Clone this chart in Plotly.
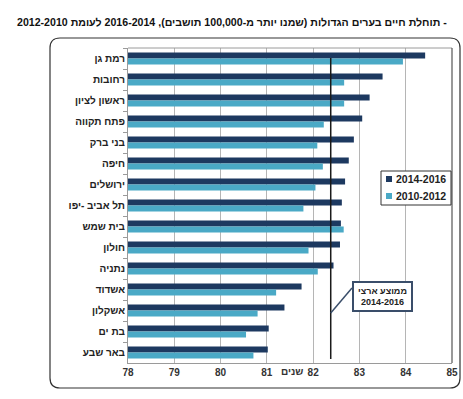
import plotly.graph_objects as go

cities = ["רמת גן", "רחובות", "ראשון לציון", "פתח תקווה", "בני ברק", "חיפה", "ירושלים",
          "תל אביב -יפו", "בית שמש", "חולון", "נתניה", "אשדוד", "אשקלון", "בת ים", "באר שבע"]
le_2014_2016 = [84.42, 83.50, 83.22, 83.06, 82.88, 82.77, 82.69, 82.62, 82.60, 82.58, 82.44,
                81.75, 81.38, 81.04, 81.02]
le_2010_2012 = [83.94, 82.67, 82.67, 82.23, 82.09, 82.21, 82.05, 81.79, 82.66, 81.90, 82.10,
                81.20, 80.80, 80.55, 80.71]
national_avg = 82.38
x_ticks = [78, 79, 80, 81, 82, 83, 84, 85]
series_names = ["2014-2016", "2010-2012"]

FONT = "Arial, Liberation Sans, sans-serif"
DARK = "#1d3960"
LIGHT = "#4aa9c6"
colors = [DARK, LIGHT]

# plot-area pixel frame
PL, PR, PT, PB = 128, 452, 48, 363
def px_x(p):
    return (p - PL) / (PR - PL)
def px_y(p):
    return (PB - p) / (PB - PT)

fig = go.Figure()
fig.add_trace(go.Bar(y=cities, x=[v - 78 for v in le_2014_2016], base=78, orientation="h",
                     name=series_names[0], marker=dict(color=DARK, line=dict(width=0))))
fig.add_trace(go.Bar(y=cities, x=[v - 78 for v in le_2010_2012], base=78, orientation="h",
                     name=series_names[1], marker=dict(color=LIGHT, line=dict(width=0))))

title = ("\u202B- תוחלת חיים בערים הגדולות (שמנו יותר מ-100,000 תושבים), "
         "2014\u200F-\u200F2016 לעומת 2010\u200F-\u200F2012\u202C")

annotations = [
    dict(text=title, xref="paper", yref="paper", x=px_x(232), y=px_y(22), xanchor="center",
         yanchor="middle", showarrow=False,
         font=dict(family=FONT, size=10.6, color="#111111", weight="bold")),
    dict(text="שנים", xref="x", yref="paper", x=81.55, y=px_y(364), xanchor="center",
         yanchor="top", showarrow=False,
         font=dict(family=FONT, size=10, color="#333333", weight="bold")),
    dict(text="ממוצע ארצי<br>2014-2016", xref="paper", yref="paper",
         x=px_x(382.5), y=px_y(296.5), xanchor="center", yanchor="middle",
         showarrow=False, bordercolor="#3a4e6a", borderwidth=2, borderpad=3, bgcolor="white",
         width=51, height=21,
         font=dict(family=FONT, size=9, color="#222222", weight="bold")),
]

shapes = [
    dict(type="line", xref="x", yref="paper", x0=national_avg, x1=national_avg,
         y0=px_y(58), y1=px_y(359), line=dict(color="#1a1a1a", width=1.5)),
    dict(type="line", xref="x", yref="paper", x0=78 + (352 - PL) / 46.29, x1=national_avg,
         y0=px_y(288), y1=px_y(313), line=dict(color="#3a4e6a", width=1.5)),
    dict(type="line", xref="paper", yref="paper", x0=0, x1=1, y0=1, y1=1,
         line=dict(color="#9a9a9a", width=1)),
    dict(type="line", xref="paper", yref="paper", x0=1, x1=1, y0=0, y1=1,
         line=dict(color="#555555", width=1.2)),
    # legend box
    dict(type="rect", xref="paper", yref="paper", x0=px_x(381), x1=px_x(451),
         y0=px_y(171), y1=px_y(205), fillcolor="white", line=dict(color="#333333", width=1),
         layer="above"),
]

# legend entries
legend_y = [179, 196]
for name, col, yy in zip(series_names, colors, legend_y):
    shapes.append(dict(type="rect", xref="paper", yref="paper", x0=px_x(386), x1=px_x(392),
                       y0=px_y(yy - 3), y1=px_y(yy + 3), fillcolor=col,
                       line=dict(width=0), layer="above"))
    annotations.append(dict(text=name, xref="paper", yref="paper", x=px_x(394), y=px_y(yy),
                            xanchor="left", yanchor="middle", showarrow=False,
                            font=dict(family=FONT, size=10.5, color="#222222", weight="bold")))

# rounded outer frame
L, R, T, B, rr = 50, 460, 38, 388, 10
path = (f"M {px_x(L + rr)},{px_y(T)} L {px_x(R - rr)},{px_y(T)} "
        f"Q {px_x(R)},{px_y(T)} {px_x(R)},{px_y(T + rr)} L {px_x(R)},{px_y(B - rr)} "
        f"Q {px_x(R)},{px_y(B)} {px_x(R - rr)},{px_y(B)} L {px_x(L + rr)},{px_y(B)} "
        f"Q {px_x(L)},{px_y(B)} {px_x(L)},{px_y(B - rr)} L {px_x(L)},{px_y(T + rr)} "
        f"Q {px_x(L)},{px_y(T)} {px_x(L + rr)},{px_y(T)} Z")
shapes.append(dict(type="path", xref="paper", yref="paper", path=path,
                   line=dict(color="#333333", width=1.2), layer="below"))

fig.update_layout(
    width=463, height=399,
    margin=dict(l=PL, r=463 - PR, t=PT, b=399 - PB, autoexpand=False),
    paper_bgcolor="white", plot_bgcolor="white",
    barmode="group", bargap=0.44, bargroupgap=0,
    font=dict(family=FONT, size=10, color="#222222"),
    showlegend=False,
    xaxis=dict(range=[78, 85], tickvals=x_ticks, ticktext=[str(t) for t in x_ticks],
               showgrid=True, gridcolor="#b5b5b5", gridwidth=1,
               showline=True, linecolor="#9a9a9a", linewidth=1,
               ticks="", tickfont=dict(family=FONT, size=10, color="#333333", weight="bold"),
               zeroline=False, automargin=False),
    yaxis=dict(autorange="reversed", showline=True, linecolor="#9a9a9a", linewidth=1,
               ticks="outside", ticklen=4, tickcolor="#9a9a9a", tickson="boundaries",
               tickfont=dict(family=FONT, size=10, color="#222222", weight="bold"),
               showgrid=False, automargin=False),
    annotations=annotations,
    shapes=shapes,
)

post = """
document.body.style.margin = '0';
document.body.style.overflow = 'hidden';
document.querySelectorAll('.annotation-text').forEach(function(t){
  if (t.textContent.indexOf('\u05EA\u05D5\u05D7\u05DC\u05EA') >= 0) {
    t.setAttribute('direction', 'rtl');
    t.style.direction = 'rtl';
  }
});
"""
fig.write_html("out.html", post_script=post, config={"displayModeBar": False})
